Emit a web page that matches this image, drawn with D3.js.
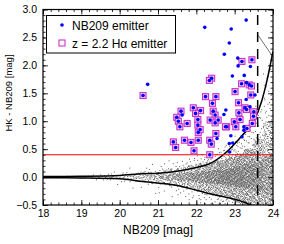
<!DOCTYPE html>
<html>
<head>
<meta charset="utf-8">
<script src="https://cdn.jsdelivr.net/npm/d3@7"></script>
<style>
  body { margin: 0; background: #fff; }
  svg { display: block; font-family: "Liberation Sans", Arial, sans-serif; }
</style>
</head>
<body>
<svg id="chart" width="284" height="244"></svg>
<script>
var width = 284;
var height = 244;

// NB209 emitters (blue dots); haFlag = 1 where also a z = 2.2 Halpha emitter (square)
var emitNB  = [22.22, 23.30, 22.91, 22.86, 22.73, 23.08, 23.19, 23.45, 23.09, 23.41,
               20.73, 20.61, 22.40, 22.34, 22.94, 23.25, 23.18, 23.38, 23.31, 23.44,
               23.53, 23.42, 23.01, 23.10, 23.30, 23.40, 23.27, 23.50, 22.24, 22.51,
               22.42, 21.92, 21.60, 22.11, 21.98, 22.44, 22.49, 22.77, 22.72, 23.11,
               23.31, 23.49, 22.04, 22.36, 22.49, 22.57, 22.99, 23.14, 23.46, 21.76,
               22.79, 23.24, 21.49, 21.63, 21.53, 21.57, 22.04, 21.40, 21.46, 21.69,
               21.86, 22.05, 21.94, 22.05, 22.35, 22.39, 22.51, 22.54, 22.35, 22.76,
               22.90, 22.95, 22.86, 22.87, 23.03, 23.19, 23.24, 23.32, 22.10];
var emitCol = [2.68, 2.81, 2.65, 2.40, 2.20, 2.13, 2.07, 2.10, 1.99, 1.98,
               1.66, 1.46, 1.77, 1.73, 1.81, 1.82, 1.67, 1.65, 1.69, 1.63,
               1.47, 1.47, 1.53, 1.33, 1.39, 1.26, 1.24, 1.17, 1.44, 1.44,
               1.32, 1.24, 1.18, 1.19, 1.14, 1.18, 1.11, 1.20, 1.12, 1.15,
               1.21, 1.09, 1.03, 1.02, 0.97, 1.02, 0.99, 1.03, 0.96, 0.96,
               0.90, 0.90, 1.07, 1.11, 1.00, 0.90, 0.93, 0.63, 0.53, 0.66,
               0.62, 0.66, 0.47, 0.80, 0.66, 0.59, 0.78, 0.69, 0.40, 0.90,
               0.74, 0.61, 0.60, 0.45, 0.90, 0.72, 0.84, 0.87, 0.85];
var haFlag  = [0, 0, 0, 0, 0, 0, 1, 1, 0, 0,
               0, 1, 1, 1, 0, 0, 1, 1, 0, 1,
               0, 1, 1, 1, 0, 0, 1, 1, 1, 1,
               1, 1, 1, 1, 1, 1, 1, 0, 0, 1,
               1, 1, 1, 1, 1, 1, 1, 1, 1, 1,
               1, 0, 1, 0, 1, 1, 1, 1, 1, 1,
               1, 1, 1, 1, 1, 1, 1, 0, 1, 1,
               0, 0, 0, 0, 1, 0, 0, 1, 1];

// 3-sigma curves (NB209, HK - NB209)
var upperNB  = [18.0, 19.0, 20.0, 20.6, 21.0, 21.45, 22.0, 22.35, 22.85, 23.2, 23.5, 23.7, 23.85, 24.0];
var upperCol = [0.01, 0.015, 0.03, 0.06, 0.07, 0.10, 0.17, 0.24, 0.49, 0.75, 1.00, 1.35, 1.75, 2.25];
var lowerNB  = [18.0, 19.0, 20.0, 20.6, 21.5, 22.35, 23.2, 23.42];
var lowerCol = [-0.01, -0.015, -0.03, -0.08, -0.15, -0.30, -0.44, -0.50];

var nbLimit = 23.6;      // dashed line
var colorCut = 0.4;      // red line
var hkLimit = 26.15;     // HK limit, HK - NB209 = hkLimit - NB209

var grayBinStart = [18.0, 18.25, 18.5, 18.75, 19.0, 19.25, 19.5, 19.75, 20.0, 20.25, 20.5, 20.75,
                    21.0, 21.25, 21.5, 21.75, 22.0, 22.25, 22.5, 22.75, 23.0, 23.25, 23.5, 23.75];
var grayCount    = [2, 2, 3, 2, 4, 5, 9, 12, 16, 20, 28, 38,
                    55, 75, 100, 135, 175, 220, 270, 330, 390, 440, 460, 470];
var grayP01 = [-0.02, -0.02, -0.02, -0.03, -0.04, -0.06, -0.16, -0.15, -0.18, -0.20, -0.24, -0.28,
               -0.30, -0.33, -0.36, -0.40, -0.45, -0.50, -0.56, -0.62, -0.70, -0.80, -0.90, -1.00];
var grayP05 = [-0.015, -0.015, -0.015, -0.02, -0.03, -0.04, -0.06, -0.07, -0.08, -0.09, -0.10, -0.12,
               -0.14, -0.16, -0.19, -0.22, -0.26, -0.30, -0.35, -0.40, -0.46, -0.52, -0.60, -0.70];
var grayP25 = [-0.005, -0.005, -0.005, -0.01, -0.01, -0.015, -0.02, -0.025, -0.03, -0.035, -0.04, -0.045,
               -0.05, -0.06, -0.07, -0.08, -0.10, -0.11, -0.13, -0.15, -0.18, -0.21, -0.25, -0.30];
var grayP50 = [0.0, 0.0, 0.0, 0.0, 0.0, 0.0, 0.0, 0.0, 0.0, 0.0, 0.0, 0.0,
               0.0, 0.0, 0.0, 0.0, 0.0, 0.0, 0.0, 0.0, 0.0, 0.01, 0.02, 0.04];
var grayP75 = [0.005, 0.005, 0.005, 0.01, 0.01, 0.015, 0.02, 0.025, 0.03, 0.035, 0.04, 0.045,
               0.05, 0.06, 0.07, 0.08, 0.10, 0.11, 0.13, 0.15, 0.19, 0.23, 0.28, 0.38];
var grayP95 = [0.015, 0.015, 0.02, 0.02, 0.03, 0.04, 0.06, 0.07, 0.08, 0.09, 0.10, 0.11,
               0.13, 0.15, 0.18, 0.21, 0.24, 0.27, 0.30, 0.35, 0.42, 0.50, 0.68, 1.00];
var grayP99 = [0.02, 0.02, 0.07, 0.03, 0.04, 0.06, 0.10, 0.12, 0.15, 0.18, 0.20, 0.23,
               0.25, 0.28, 0.30, 0.33, 0.38, 0.42, 0.48, 0.56, 0.70, 0.88, 1.20, 1.80];

var xTicks = [18, 19, 20, 21, 22, 23, 24];
var yTicks = [-0.5, 0.0, 0.5, 1.0, 1.5, 2.0, 2.5, 3.0];

var margin = { left: 43, right: 11, top: 9.5, bottom: 39 };

var x = d3.scaleLinear().domain([18, 24]).range([margin.left, width - margin.right]);
var y = d3.scaleLinear().domain([-0.5, 3.0]).range([height - margin.bottom, margin.top]);

var svg = d3.select('#chart');

svg.append('defs').append('clipPath')
   .attr('id', 'plotclip')
   .append('rect')
   .attr('x', x(18)).attr('y', y(3))
   .attr('width', x(24) - x(18)).attr('height', y(-0.5) - y(3));

var plot = svg.append('g').attr('clip-path', 'url(#plotclip)');

// gray cloud: spread each bin's count over its percentile curve (Halton 2,3 placement)
function halton(i, base) {
   var f = 1, r = 0;
   while (i > 0) { f = f / base; r += f * (i % base); i = Math.floor(i / base); }
   return r;
}

var pLevels = [0.01, 0.05, 0.25, 0.50, 0.75, 0.95, 0.99];
var grayPts = [];
var idx = 1;
grayBinStart.forEach(function(b, i) {
   var q = d3.scaleLinear().domain(pLevels)
      .range([grayP01[i], grayP05[i], grayP25[i], grayP50[i], grayP75[i], grayP95[i], grayP99[i]]);
   for (var k = 0; k < grayCount[i]; k++, idx++) {
      var u = halton(idx, 2), v = halton(idx, 3);
      grayPts.push([b + v * 0.25, q(0.003 + u * 0.994)]);
   }
});

plot.append('g')
   .selectAll('rect')
   .data(grayPts)
   .enter()
   .append('rect')
   .attr('x', function(d) { return x(d[0]) - 0.5; })
   .attr('y', function(d) { return y(d[1]) - 0.5; })
   .attr('width', 1)
   .attr('height', 1)
   .attr('fill', '#5e5e5e');

// curves
var line = d3.line()
   .x(function(d) { return x(d[0]); })
   .y(function(d) { return y(d[1]); })
   .curve(d3.curveMonotoneX);

plot.append('path')
   .datum(d3.zip(upperNB, upperCol))
   .attr('d', line)
   .attr('fill', 'none').attr('stroke', '#000').attr('stroke-width', 1.5);

plot.append('path')
   .datum(d3.zip(lowerNB, lowerCol))
   .attr('d', line)
   .attr('fill', 'none').attr('stroke', '#000').attr('stroke-width', 1.5);

// HK limit line, right of the NB limit
plot.append('line')
   .attr('x1', x(nbLimit)).attr('y1', y(hkLimit - nbLimit))
   .attr('x2', x(24)).attr('y2', y(hkLimit - 24))
   .attr('stroke', '#333').attr('stroke-width', 0.7);

// red colour cut
plot.append('line')
   .attr('x1', x(18)).attr('x2', x(24))
   .attr('y1', y(colorCut)).attr('y2', y(colorCut))
   .attr('stroke', '#ff0000').attr('stroke-width', 1.2);

// dashed NB limit
plot.append('line')
   .attr('x1', x(nbLimit)).attr('x2', x(nbLimit))
   .attr('y1', y(3)).attr('y2', y(-0.5))
   .attr('stroke', '#000').attr('stroke-width', 1.5)
   .attr('stroke-dasharray', '10,7')
   .attr('stroke-dashoffset', 11.5);

var emit = d3.range(emitNB.length).map(function(i) {
   return { nb: emitNB[i], col: emitCol[i], ha: haFlag[i] };
});

plot.append('g')
   .selectAll('rect')
   .data(emit.filter(function(d) { return d.ha; }))
   .enter()
   .append('rect')
   .attr('x', function(d) { return x(d.nb) - 3; })
   .attr('y', function(d) { return y(d.col) - 3; })
   .attr('width', 6).attr('height', 6)
   .attr('fill', '#e8c8ee')
   .attr('stroke', '#cc33cc').attr('stroke-width', 1.1);

plot.append('g')
   .selectAll('circle')
   .data(emit)
   .enter()
   .append('circle')
   .attr('cx', function(d) { return x(d.nb); })
   .attr('cy', function(d) { return y(d.col); })
   .attr('r', 1.8)
   .attr('fill', '#0000ff');

// axes, ticks inward on all four sides
function minor(step, lo, hi) {
   return d3.range(Math.round((hi - lo) / step) + 1).map(function(i) { return lo + i * step; });
}

var xMinor = minor(0.2, 18, 24);
var yMinor = minor(0.1, -0.5, 3.0);

svg.append('g')
   .attr('transform', 'translate(0,' + y(-0.5) + ')')
   .call(d3.axisBottom(x).tickValues(xMinor).tickSize(-2.5).tickFormat(''));
svg.append('g')
   .attr('transform', 'translate(0,' + y(-0.5) + ')')
   .call(d3.axisBottom(x).tickValues(xTicks).tickSize(-5).tickPadding(5).tickFormat(d3.format('d')))
   .attr('class', 'xaxis');
svg.append('g')
   .attr('transform', 'translate(0,' + y(3) + ')')
   .call(d3.axisTop(x).tickValues(xMinor).tickSize(-2.5).tickFormat(''));
svg.append('g')
   .attr('transform', 'translate(0,' + y(3) + ')')
   .call(d3.axisTop(x).tickValues(xTicks).tickSize(-5).tickFormat(''));

svg.append('g')
   .attr('transform', 'translate(' + x(18) + ',0)')
   .call(d3.axisLeft(y).tickValues(yMinor).tickSize(-2.5).tickFormat(''));
svg.append('g')
   .attr('transform', 'translate(' + x(18) + ',0)')
   .call(d3.axisLeft(y).tickValues(yTicks).tickSize(-5).tickPadding(6)
      .tickFormat(function(d) { return d3.format('.1f')(d).replace('-', '\u2212'); }))
   .attr('class', 'yaxis');
svg.append('g')
   .attr('transform', 'translate(' + x(24) + ',0)')
   .call(d3.axisRight(y).tickValues(yMinor).tickSize(-2.5).tickFormat(''));
svg.append('g')
   .attr('transform', 'translate(' + x(24) + ',0)')
   .call(d3.axisRight(y).tickValues(yTicks).tickSize(-5).tickFormat(''));

svg.selectAll('.domain').remove();
svg.selectAll('.tick line').attr('stroke', '#000').attr('stroke-width', 0.8);
svg.selectAll('.xaxis text, .yaxis text')
   .style('font-size', '10.5px')
   .style('font-family', '"Liberation Sans", Arial, sans-serif')
   .attr('fill', '#000');

svg.append('rect')
   .attr('x', x(18)).attr('y', y(3))
   .attr('width', x(24) - x(18)).attr('height', y(-0.5) - y(3))
   .attr('fill', 'none').attr('stroke', '#000').attr('stroke-width', 1.2);

// axis titles
svg.append('text')
   .attr('x', (x(18) + x(24)) / 2).attr('y', 234)
   .attr('text-anchor', 'middle')
   .style('font-size', '12px')
   .text('NB209 [mag]');

svg.append('text')
   .attr('transform', 'translate(12,93) rotate(-90)')
   .attr('text-anchor', 'middle')
   .style('font-size', '9.5px')
   .text('HK - NB209 [mag]');

// legend
var lg = svg.append('g');
lg.append('rect')
   .attr('x', 46.5).attr('y', 15.5).attr('width', 129).attr('height', 37.5)
   .attr('fill', '#fff').attr('stroke', '#000').attr('stroke-width', 1);
lg.append('circle').attr('cx', 62).attr('cy', 25).attr('r', 1.8).attr('fill', '#0000ff');
lg.append('rect').attr('x', 59).attr('y', 40).attr('width', 6).attr('height', 6)
   .attr('fill', 'none').attr('stroke', '#cc33cc').attr('stroke-width', 1.1);
lg.append('text').attr('x', 72).attr('y', 29.5).style('font-size', '12px').text('NB209 emitter');
lg.append('text').attr('x', 72).attr('y', 47.5).style('font-size', '12px').text('z = 2.2 H\u03b1 emitter');
</script>
</body>
</html>
